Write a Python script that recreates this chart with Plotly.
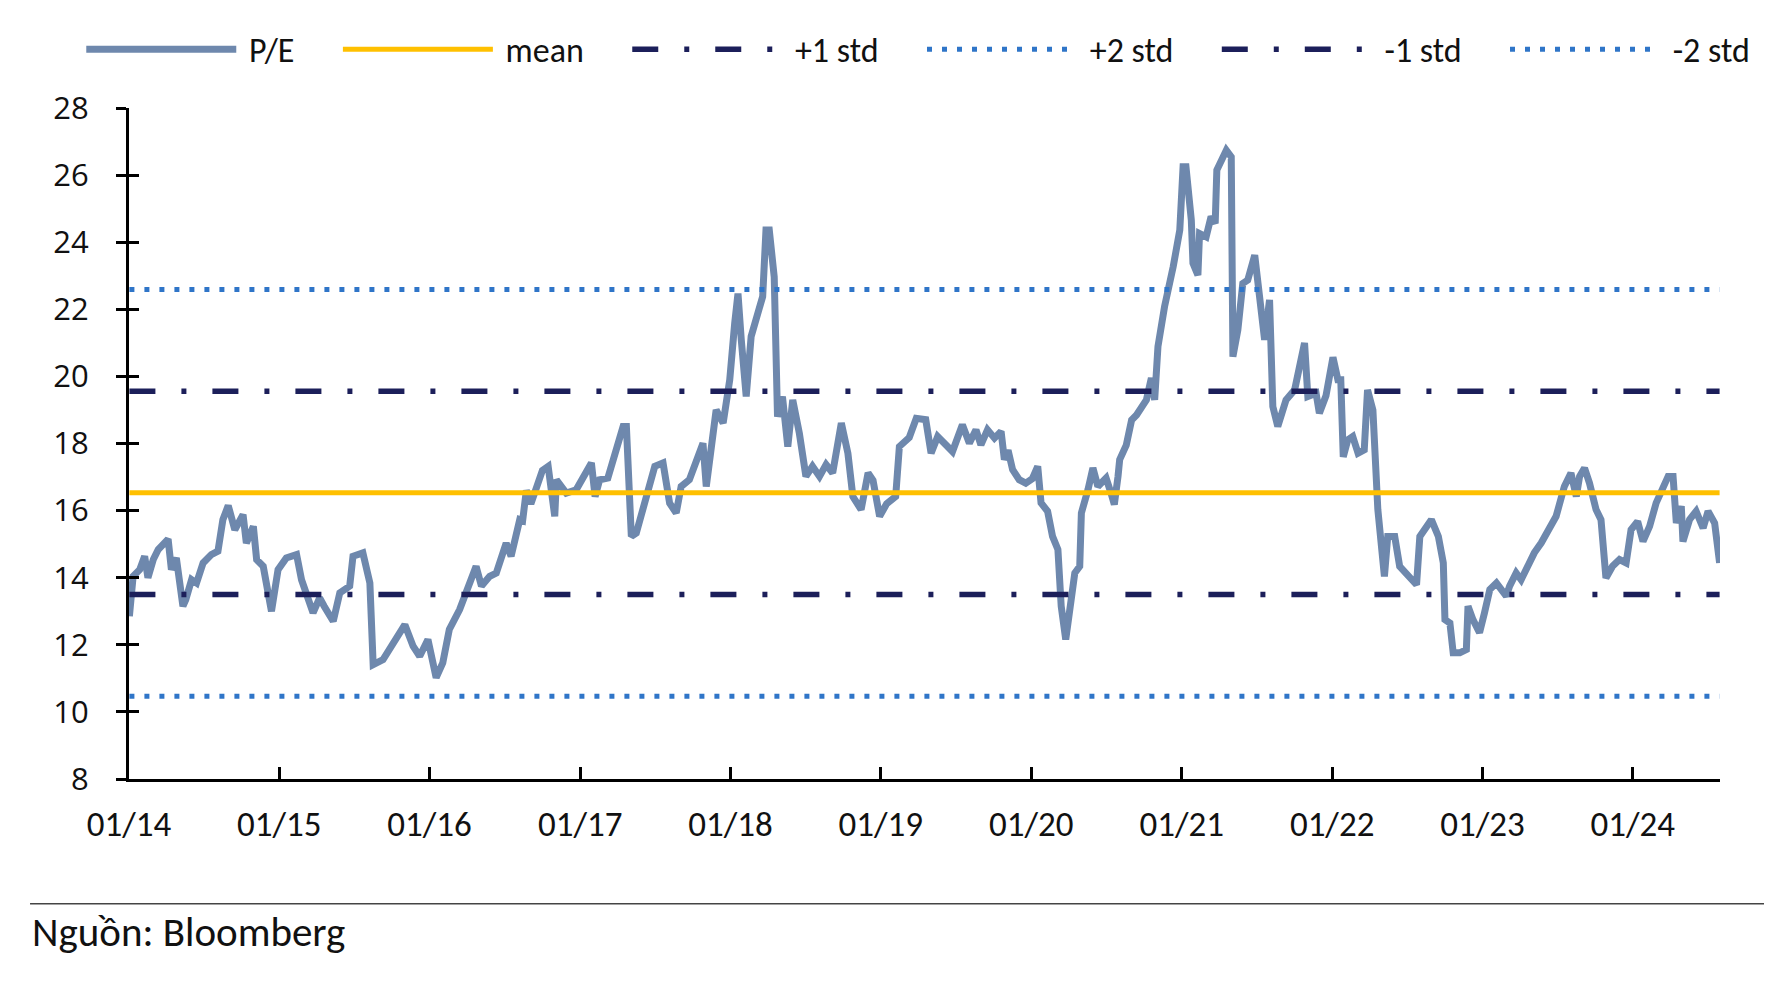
import plotly.graph_objects as go

# ---- data ----
dates = [
    "2014-01-02","2014-01-11","2014-01-27","2014-02-08","2014-02-16","2014-03-01","2014-03-13","2014-04-06",
    "2014-04-14","2014-04-26","2014-05-12","2014-05-19","2014-06-02","2014-06-14","2014-06-30","2014-07-20",
    "2014-08-05","2014-08-17","2014-08-30","2014-09-15","2014-10-05","2014-10-13","2014-10-30","2014-11-07",
    "2014-11-23","2014-12-13","2014-12-29",
    "2015-01-18","2015-02-12","2015-02-24","2015-03-24","2015-04-09","2015-04-20","2015-05-12","2015-05-28",
    "2015-06-21","2015-06-29","2015-07-23","2015-08-09","2015-08-17","2015-09-10","2015-10-04","2015-11-02",
    "2015-11-22","2015-12-08","2015-12-28",
    "2016-01-17","2016-02-02","2016-02-18","2016-03-14","2016-04-03","2016-04-23","2016-05-06","2016-05-26",
    "2016-06-11","2016-07-05","2016-07-17","2016-08-07","2016-08-14","2016-08-23","2016-09-03","2016-09-16",
    "2016-10-01","2016-10-15","2016-10-31","2016-11-04","2016-11-28","2016-12-22",
    "2017-01-08","2017-01-28","2017-02-06","2017-02-17","2017-03-09","2017-03-30","2017-04-15","2017-04-23",
    "2017-05-05","2017-05-17","2017-06-10","2017-07-01","2017-07-21","2017-08-06","2017-08-22","2017-09-03",
    "2017-09-23","2017-10-10","2017-10-26","2017-11-03","2017-11-19","2017-11-27","2017-12-14","2017-12-30",
    "2018-01-11","2018-01-19","2018-01-27","2018-02-08","2018-02-20","2018-03-04","2018-03-20","2018-03-28",
    "2018-04-05","2018-04-17","2018-04-25","2018-05-07","2018-05-20","2018-06-01","2018-06-17","2018-07-03",
    "2018-07-19","2018-08-05","2018-08-21","2018-09-06","2018-09-27","2018-10-13","2018-10-25","2018-11-14",
    "2018-12-01","2018-12-13","2018-12-29",
    "2019-01-15","2019-02-06","2019-02-15","2019-03-11","2019-03-28","2019-04-20","2019-05-03","2019-05-19",
    "2019-06-24","2019-07-06","2019-07-18","2019-08-04","2019-08-20","2019-09-01","2019-09-17","2019-10-04",
    "2019-10-20","2019-10-28","2019-11-06","2019-11-17","2019-12-03","2019-12-19",
    "2020-01-04","2020-01-17","2020-01-25","2020-02-10","2020-02-22","2020-03-06","2020-03-14","2020-03-25",
    "2020-04-03","2020-04-16","2020-04-28","2020-05-02","2020-05-18","2020-05-30","2020-06-11","2020-07-01",
    "2020-07-13","2020-07-21","2020-07-30","2020-08-03","2020-08-19","2020-09-01","2020-09-13","2020-10-07",
    "2020-10-19","2020-10-27","2020-11-04","2020-11-20","2020-12-11","2020-12-27",
    "2021-01-04","2021-01-11","2021-01-24","2021-01-28","2021-02-09","2021-02-13","2021-03-01","2021-03-13",
    "2021-03-23","2021-03-27","2021-04-19","2021-05-01","2021-05-05","2021-05-17","2021-05-29","2021-06-10",
    "2021-06-27","2021-07-13","2021-07-21","2021-08-02","2021-08-10","2021-08-22","2021-09-11","2021-10-02",
    "2021-10-14","2021-10-26","2021-11-03","2021-11-23","2021-12-01","2021-12-17",
    "2022-01-03","2022-01-15","2022-01-22","2022-01-28","2022-02-08","2022-02-20","2022-03-05","2022-03-20",
    "2022-03-28","2022-04-10","2022-04-22","2022-05-08","2022-05-16","2022-06-02","2022-06-14","2022-06-30",
    "2022-07-12","2022-07-25","2022-08-02","2022-08-18","2022-08-30","2022-09-16","2022-09-28","2022-10-02",
    "2022-10-14","2022-10-22","2022-11-07","2022-11-23","2022-11-27","2022-12-09","2022-12-25",
    "2023-01-06","2023-01-19","2023-02-04","2023-02-28","2023-03-08","2023-03-24","2023-04-05","2023-04-25",
    "2023-05-07","2023-05-24","2023-06-17","2023-06-29","2023-07-19","2023-08-04","2023-08-17","2023-08-25",
    "2023-09-06","2023-09-18","2023-10-04","2023-10-16","2023-10-28","2023-11-13","2023-11-30","2023-12-16",
    "2023-12-28",
    "2024-01-13","2024-01-26","2024-02-11","2024-02-27","2024-03-19","2024-03-27","2024-04-08","2024-04-16",
    "2024-04-28","2024-05-02","2024-05-18","2024-06-03","2024-06-20","2024-07-02","2024-07-18","2024-07-30",
]
pe = [
    12.85,14.04,14.24,14.64,14.00,14.54,14.84,15.15,
    14.24,14.59,13.15,13.35,13.94,13.84,14.44,14.69,
    14.79,15.73,16.15,15.43,15.88,15.03,15.53,14.54,
    14.34,13.00,14.24,
    14.59,14.69,13.94,12.95,13.40,13.15,12.70,13.55,
    13.75,14.64,14.74,13.84,11.41,11.56,12.06,12.60,
    11.96,11.66,12.16,
    11.02,11.46,12.46,13.05,13.65,14.34,13.75,14.04,
    14.14,15.03,14.64,15.73,15.70,16.60,16.20,16.70,
    17.20,17.32,15.83,16.92,16.52,16.62,
    17.02,17.42,16.42,16.92,16.97,17.91,18.51,18.51,
    15.23,15.33,16.32,17.32,17.42,16.22,15.93,16.72,
    16.92,17.52,18.01,16.72,18.21,19.00,18.61,19.90,
    21.58,22.47,21.09,19.40,21.19,21.78,22.38,24.36,
    24.36,22.97,18.80,19.40,17.91,19.30,18.31,17.02,
    17.32,17.02,17.37,17.12,18.61,17.71,16.42,16.03,
    17.12,16.90,15.83,
    16.20,16.42,17.91,18.18,18.75,18.71,17.71,18.21,
    17.76,18.16,18.56,18.01,18.41,17.96,18.41,18.16,
    18.36,17.52,17.80,17.22,16.92,16.82,
    16.95,17.32,16.23,15.98,15.23,14.84,13.15,12.16,
    12.95,14.14,14.34,15.93,16.62,17.27,16.72,16.97,
    16.52,16.18,17.02,17.52,17.95,18.70,18.85,19.30,
    19.95,19.30,20.89,22.08,23.27,24.36,
    26.25,26.25,24.66,23.37,23.02,24.26,24.16,24.76,
    24.56,26.15,26.74,26.54,20.59,21.38,22.77,22.87,
    23.61,21.68,21.09,22.28,19.10,18.51,19.30,19.60,
    20.29,21.00,19.40,19.50,18.90,19.42,
    20.57,19.90,19.90,17.60,18.11,18.21,17.71,17.81,
    19.60,19.00,16.03,14.04,15.23,15.23,14.34,14.14,
    13.94,13.79,15.23,15.53,15.73,15.23,14.44,12.75,
    12.65,11.76,11.76,11.86,13.15,12.75,12.36,
    12.95,13.65,13.84,13.45,13.75,14.14,13.94,14.44,
    14.74,15.04,15.53,15.83,16.72,17.12,16.42,17.02,
    17.27,16.82,16.03,15.73,13.99,14.34,14.54,14.44,
    15.43,
    15.68,15.08,15.53,16.23,16.82,17.02,17.02,15.63,
    16.13,15.08,15.73,15.98,15.48,15.98,15.63,14.44,
]
mean_value = 16.53
std_value = 3.03
y_ticks = [8, 10, 12, 14, 16, 18, 20, 22, 24, 26, 28]
x_start, x_end = "2014-01-01", "2024-07-31"
series_names = ["P/E", "mean", "+1 std", "+2 std", "-1 std", "-2 std"]
source_text = "Nguồn: Bloomberg"

# ---- styling ----
FONT_X = "Carlito, 'Liberation Sans Narrow', 'Open Sans', sans-serif"
FONT_Y = "'Open Sans', 'Noto Sans', sans-serif"
PE_COLOR = "#6E88AD"
MEAN_COLOR = "#FFC000"
STD1_COLOR = "#1C1F5A"
STD2_COLOR = "#2F75C8"
LEAD = "\u00a0"       # gap between legend symbol and label
PAD = "\u00a0" * 5    # gap after each legend label (not after the last)


def legend_label(i):
    return LEAD + series_names[i] + (PAD if i < len(series_names) - 1 else "")


levels = [
    mean_value,
    mean_value + std_value,
    mean_value + 2 * std_value,
    mean_value - std_value,
    mean_value - 2 * std_value,
]
styles = [
    dict(color=MEAN_COLOR, width=5, dash="solid"),
    dict(color=STD1_COLOR, width=5.5, dash="26px,26px,5px,26px"),
    dict(color=STD2_COLOR, width=5, dash="5px,10px"),
    dict(color=STD1_COLOR, width=5.5, dash="26px,26px,5px,26px"),
    dict(color=STD2_COLOR, width=5, dash="5px,10px"),
]
span = [dates[0], dates[-1]]

fig = go.Figure()
fig.add_trace(go.Scatter(x=dates, y=pe, mode="lines", name=legend_label(0),
                         line=dict(color=PE_COLOR, width=7)))
for i, (lvl, st) in enumerate(zip(levels, styles), start=1):
    fig.add_trace(go.Scatter(x=span, y=[lvl, lvl], mode="lines", name=legend_label(i), line=st))

# overlaid axis only to draw inward ticks, so the y ticks cross the axis line
fig.add_trace(go.Scatter(x=span, y=[mean_value, mean_value], yaxis="y2",
                         mode="lines", line=dict(width=0), showlegend=False, hoverinfo="skip"))

# page body adds an 8px offset; figure size and margins compensate
fig.update_layout(
    width=1764, height=974,
    paper_bgcolor="white", plot_bgcolor="white",
    margin=dict(l=121, r=52, t=100, b=203),
    showlegend=True,
    legend=dict(orientation="h", x=-0.030, y=1.087, xanchor="left", yanchor="middle",
                font=dict(family=FONT_X, size=34, color="#111"),
                itemwidth=150, tracegroupgap=0, bgcolor="rgba(0,0,0,0)"),
    xaxis=dict(type="date", range=[x_start, x_end], dtick="M12", tick0="2014-01-01",
               tickformat="%m/%y", showgrid=False, zeroline=False,
               showline=True, linecolor="black", linewidth=3,
               ticks="inside", ticklen=12, tickwidth=2.5, tickcolor="black",
               tickfont=dict(family=FONT_X, size=35, color="#111"),
               ticklabelstandoff=12),
    yaxis=dict(range=[8, 28], tickvals=y_ticks, showgrid=False, zeroline=False,
               showline=True, linecolor="black", linewidth=3,
               ticks="outside", ticklen=10, tickwidth=2.5, tickcolor="black",
               tickfont=dict(family=FONT_Y, size=31, color="#111"),
               ticklabelstandoff=21),
    yaxis2=dict(range=[8, 28], tickvals=y_ticks, overlaying="y", side="left", anchor="x",
                showgrid=False, zeroline=False, showline=False, showticklabels=False,
                ticks="inside", ticklen=10, tickwidth=2.5, tickcolor="black"),
    shapes=[dict(type="line", xref="paper", yref="paper", x0=-0.0622, x1=1.06,
                 y0=-0.186, y1=-0.186, line=dict(color="#444", width=1.5))],
    annotations=[dict(text=source_text, xref="paper", yref="paper", x=-0.0622, y=-0.228,
                      xanchor="left", yanchor="middle", showarrow=False,
                      font=dict(family=FONT_X, size=41, color="#111"))],
)

fig.write_html("out.html")
